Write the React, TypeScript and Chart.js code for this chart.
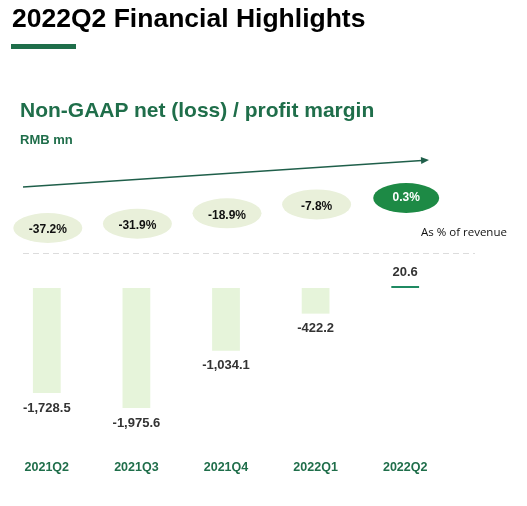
import { useEffect, useRef } from 'react'
import { Chart, registerables } from 'chart.js'

Chart.register(...registerables)

const quarters = ['2021Q2', '2021Q3', '2021Q4', '2022Q1', '2022Q2']
const netProfit = [-1728.5, -1975.6, -1034.1, -422.2, 20.6]
const margins = [-37.2, -31.9, -18.9, -7.8, 0.3]

const GREEN = '#1f6e4a'
const FONT = '"Liberation Sans", Arial, sans-serif'
const fmt = (v: number) => v.toLocaleString('en-US', { minimumFractionDigits: 1, maximumFractionDigits: 1 })

const decorPlugin = {
  id: 'decor',
  afterDatasetsDraw(chart: any) {
    const { ctx, scales } = chart
    const x = scales.x
    const y2 = scales.y2
    ctx.save()

    // dashed separator
    ctx.strokeStyle = '#dcdcdc'
    ctx.lineWidth = 1
    ctx.setLineDash([6, 4])
    ctx.beginPath()
    ctx.moveTo(23, 253.5)
    ctx.lineTo(475, 253.5)
    ctx.stroke()
    ctx.setLineDash([])

    // trend arrow
    ctx.strokeStyle = '#1f5f4a'
    ctx.fillStyle = '#1f5f4a'
    ctx.lineWidth = 1.5
    ctx.beginPath()
    ctx.moveTo(23, 187)
    ctx.lineTo(422, 160.5)
    ctx.stroke()
    const ang = Math.atan2(160 - 187, 428 - 23)
    ctx.beginPath()
    ctx.moveTo(429, 160)
    ctx.lineTo(429 - 8 * Math.cos(ang) - 3.5 * Math.sin(ang), 160 - 8 * Math.sin(ang) + 3.5 * Math.cos(ang))
    ctx.lineTo(429 - 8 * Math.cos(ang) + 3.5 * Math.sin(ang), 160 - 8 * Math.sin(ang) - 3.5 * Math.cos(ang))
    ctx.closePath()
    ctx.fill()

    // margin ellipses
    margins.forEach((m, i) => {
      const cx = x.getPixelForValue(i) + 1
      const cy = y2.getPixelForValue(m)
      const last = i === margins.length - 1
      ctx.fillStyle = last ? '#1d8a45' : '#e9f0da'
      ctx.beginPath()
      ctx.ellipse(cx, cy, last ? 33 : 34.5, 15, 0, 0, Math.PI * 2)
      ctx.fill()
      ctx.fillStyle = last ? '#ffffff' : '#111111'
      ctx.font = 'bold 12px ' + FONT
      ctx.textAlign = 'center'
      ctx.textBaseline = 'middle'
      ctx.fillText(m.toFixed(1) + '%', cx, cy + (last ? 0 : 2))
    })

    // value labels
    const meta = chart.getDatasetMeta(0)
    ctx.font = 'bold 13px ' + FONT
    ctx.fillStyle = '#333333'
    meta.data.forEach((bar: any, i: number) => {
      const v = netProfit[i]
      const ly = v < 0 ? bar.y + 15 : bar.y - 14
      ctx.fillText(fmt(v), bar.x, ly)
    })
    ctx.restore()
  },
}

export default function App() {
  const canvasRef = useRef<HTMLCanvasElement>(null)
  const chartRef = useRef<Chart | null>(null)

  useEffect(() => {
    if (!canvasRef.current) return
    if (chartRef.current) chartRef.current.destroy()
    chartRef.current = new Chart(canvasRef.current, {
      type: 'bar',
      data: {
        labels: quarters,
        datasets: [{
          data: netProfit,
          backgroundColor: netProfit.map(v => (v < 0 ? '#e6f4da' : '#1f8a62')),
          barPercentage: 0.62,
          categoryPercentage: 0.5,
          minBarLength: 2,
        }],
      },
      options: {
        responsive: false,
        animation: false,
        layout: { padding: { left: 2, right: 77, top: 170, bottom: 27 } },
        plugins: { legend: { display: false }, tooltip: { enabled: false } },
        scales: {
          x: {
            grid: { display: false, drawTicks: false },
            border: { display: false },
            ticks: {
              padding: 4,
              color: GREEN,
              font: { family: FONT, size: 12.5, weight: 'bold' },
            },
          },
          y: { display: false, min: -2765.9, max: 1942.7 },
          y2: { display: false, min: -322.2, max: 35.3 },
        },
      },
      plugins: [decorPlugin],
    })
    return () => { chartRef.current?.destroy() }
  }, [])

  return (
    <div style={{ position: 'absolute', left: 0, top: 0, width: 527, height: 506, background: '#fff', fontFamily: FONT }}>
      <canvas ref={canvasRef} width={527} height={506} style={{ position: 'absolute', left: 0, top: 0 }} />
      <div style={{ position: 'absolute', left: 12, top: 3, fontSize: 26.5, fontWeight: 'bold', color: '#000', whiteSpace: 'nowrap' }}>
        2022Q2 Financial Highlights
      </div>
      <div style={{ position: 'absolute', left: 11, top: 44, width: 65, height: 5, background: GREEN }} />
      <div style={{ position: 'absolute', left: 20, top: 98, fontSize: 21, fontWeight: 'bold', color: GREEN, whiteSpace: 'nowrap' }}>
        Non-GAAP net (loss) / profit margin
      </div>
      <div style={{ position: 'absolute', left: 20, top: 132, fontSize: 13, fontWeight: 'bold', color: GREEN }}>
        RMB mn
      </div>
      <div style={{ position: 'absolute', left: 421, top: 224, fontSize: 11.5, color: '#111', fontFamily: '"Open Sans", sans-serif', whiteSpace: 'nowrap' }}>
        As % of revenue
      </div>
    </div>
  )
}
